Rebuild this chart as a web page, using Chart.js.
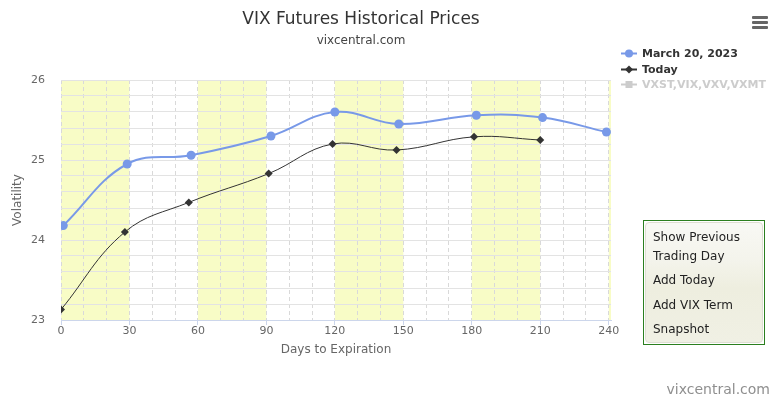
<!DOCTYPE html>
<html>
<head>
<meta charset="utf-8">
<script src="https://cdn.jsdelivr.net/npm/chart.js@4.4.0/dist/chart.umd.min.js"></script>
<style>
  html, body { margin:0; padding:0; background:#fff; }
  body { width:778px; height:399px; position:relative; overflow:hidden; font-family:"DejaVu Sans", sans-serif; }
  #c { position:absolute; left:0; top:0; }
  .abs { position:absolute; white-space:nowrap; }
  #title { left:0; width:722px; top:7px; text-align:center; font-size:17px; line-height:22px; color:#333; }
  #subtitle { left:0; width:722px; top:33px; text-align:center; font-size:12px; line-height:14px; color:#444; }
  .leg { left:621px; height:15px; font-size:11px; font-weight:bold; line-height:15px; color:#333; display:flex; align-items:center; }
  .leg svg { margin-right:5px; }
  #menu { left:752px; top:16px; width:16px; }
  #menu div { height:3px; background:#666; margin-bottom:2px; border-radius:1px; }
  #box { left:643px; top:220px; width:120px; height:123px; border:1px solid #2b7f1f; background:#fff; }
  #box .inner { position:absolute; left:1px; top:1px; right:1px; bottom:1px; border-radius:4px; border:1px solid #deded2;
     background:linear-gradient(#f8f8f4 0%, #f4f4ec 30%, #eeeedf 55%, #f0f0e4 100%); }
  #box .btn { position:absolute; left:7px; font-size:12px; line-height:16px; color:#222; }
  #credit { right:8px; top:380px; font-size:14px; line-height:18px; color:#8f8f8f; }
</style>
</head>
<body>
<canvas id="c" width="778" height="399"></canvas>
<div id="title" class="abs">VIX Futures Historical Prices</div>
<div id="subtitle" class="abs">vixcentral.com</div>
<div id="menu" class="abs"><div></div><div></div><div></div></div>
<div id="legend"></div>
<div id="box" class="abs"><div class="inner">
  <div class="btn" style="top:6px">Show Previous</div>
  <div class="btn" style="top:25px">Trading Day</div>
  <div class="btn" style="top:49px">Add Today</div>
  <div class="btn" style="top:74px">Add VIX Term</div>
  <div class="btn" style="top:98px">Snapshot</div>
</div></div>
<div id="credit" class="abs">vixcentral.com</div>
<script>
// ---- data ----
const marchLabel = "March 20, 2023";
const marchDays   = [1, 29, 57, 92, 120, 148, 182, 211, 239];
const marchValues = [24.18, 24.95, 25.06, 25.30, 25.60, 25.45, 25.56, 25.53, 25.35];

const todayLabel = "Today";
const todayDays   = [0, 28, 56, 91, 119, 147, 181, 210];
const todayValues = [23.13, 24.10, 24.47, 24.83, 25.20, 25.125, 25.29, 25.25];

const hiddenLabel = "VXST,VIX,VXV,VXMT";

const bandStarts = [0, 60, 120, 180, 240];
const bandLength = 30;
const xTickLabels = [0, 30, 60, 90, 120, 150, 180, 210, 240];
const xGridStep = 10;
const yTickLabels = [23, 24, 25, 26];

const BLUE = '#7899e8';
const DARK = '#333333';

// ---- legend (HTML) ----
const legendItems = [
  {label: marchLabel, color: BLUE, marker: 'circle', text: '#333'},
  {label: todayLabel, color: DARK, marker: 'diamond', text: '#333'},
  {label: hiddenLabel, color: '#cccccc', marker: 'square', text: '#cccccc'}
];
const legendEl = document.getElementById('legend');
legendItems.forEach((it, i) => {
  const d = document.createElement('div');
  d.className = 'abs leg';
  d.style.top = (46 + i * 15.5) + 'px';
  d.style.color = it.text;
  let m = '';
  if (it.marker === 'circle') m = `<circle cx="8" cy="7.5" r="4" fill="${it.color}"/>`;
  if (it.marker === 'diamond') m = `<path d="M8 3.5 L12 7.5 L8 11.5 L4 7.5 Z" fill="${it.color}"/>`;
  if (it.marker === 'square') m = `<rect x="4.5" y="4" width="7" height="7" fill="${it.color}"/>`;
  d.innerHTML = `<svg width="16" height="15"><line x1="0" y1="7.5" x2="16" y2="7.5" stroke="${it.color}" stroke-width="2"/>${m}</svg><span>${it.label}</span>`;
  legendEl.appendChild(d);
});

// ---- plot bands plugin ----
const bandsPlugin = {
  id: 'bands',
  beforeDraw(chart) {
    const {ctx, chartArea, scales: {x}} = chart;
    ctx.save();
    ctx.beginPath();
    ctx.rect(chartArea.left, chartArea.top, chartArea.right - chartArea.left, chartArea.bottom - chartArea.top);
    ctx.clip();
    ctx.fillStyle = '#f8fcc6';
    bandStarts.forEach(s => {
      const x0 = x.getPixelForValue(s);
      const x1 = x.getPixelForValue(s + bandLength);
      ctx.fillRect(x0, chartArea.top, x1 - x0, chartArea.bottom - chartArea.top);
    });
    ctx.restore();
  }
};

const isMult = (v, m) => Math.abs(v / m - Math.round(v / m)) < 1e-6;

new Chart(document.getElementById('c'), {
  type: 'line',
  data: {
    datasets: [
      {
        label: todayLabel,
        data: todayDays.map((d, i) => ({x: d, y: todayValues[i]})),
        borderColor: DARK, backgroundColor: DARK,
        borderWidth: 1, tension: 0.4,
        pointStyle: 'rectRot', pointRadius: 4, pointBorderWidth: 0,
        pointBackgroundColor: DARK
      },
      {
        label: marchLabel,
        data: marchDays.map((d, i) => ({x: d, y: marchValues[i]})),
        borderColor: BLUE, backgroundColor: BLUE,
        borderWidth: 2, tension: 0.4,
        pointStyle: 'circle', pointRadius: 4.5, pointBorderWidth: 0,
        pointBackgroundColor: BLUE
      }
    ]
  },
  options: {
    responsive: false,
    animation: false,
    events: [],
    layout: { padding: { left: 0, top: 80, right: 167, bottom: 39 } },
    plugins: { legend: { display: false }, title: { display: false }, tooltip: { enabled: false } },
    scales: {
      x: {
        type: 'linear', min: 0, max: 241,
        afterFit(s) { s.height = 40; },
        afterBuildTicks(s) {
          const t = [];
          for (let v = 0; v <= xTickLabels[xTickLabels.length - 1]; v += xGridStep) t.push({value: v});
          s.ticks = t;
        },
        border: { display: true, color: '#ccd6eb', width: 1, dash: [4, 3] },
        grid: {
          color: '#d9d9d9',
          tickColor: c => (c.tick && isMult(c.tick.value, 30)) ? '#ccd6eb' : 'rgba(0,0,0,0)',
          tickLength: 5, tickBorderDash: [], drawTicks: true, lineWidth: 1
        },
        ticks: {
          autoSkip: false, maxRotation: 0, padding: 0,
          color: '#666', font: { family: 'DejaVu Sans', size: 11 },
          callback: v => xTickLabels.includes(v) ? String(v) : ''
        },
        title: {
          display: true, text: 'Days to Expiration', color: '#666',
          font: { family: 'DejaVu Sans', size: 12 }, padding: { top: 0, bottom: 3 }
        }
      },
      y: {
        min: 23, max: 26,
        afterFit(s) { s.width = 61; },
        border: { display: false },
        grid: { color: '#e3e3e3', lineWidth: 1, drawTicks: false },
        ticks: {
          stepSize: 0.2, autoSkip: false, padding: 16,
          color: '#666', font: { family: 'DejaVu Sans', size: 11 },
          callback: v => { const r = Math.round(v); return (Math.abs(v - r) < 1e-6 && yTickLabels.includes(r)) ? String(r) : ''; }
        },
        title: {
          display: true, text: 'Volatility', color: '#666',
          font: { family: 'DejaVu Sans', size: 12 }, padding: { top: 11, bottom: 0 }
        }
      }
    }
  },
  plugins: [bandsPlugin]
});
</script>
</body>
</html>
